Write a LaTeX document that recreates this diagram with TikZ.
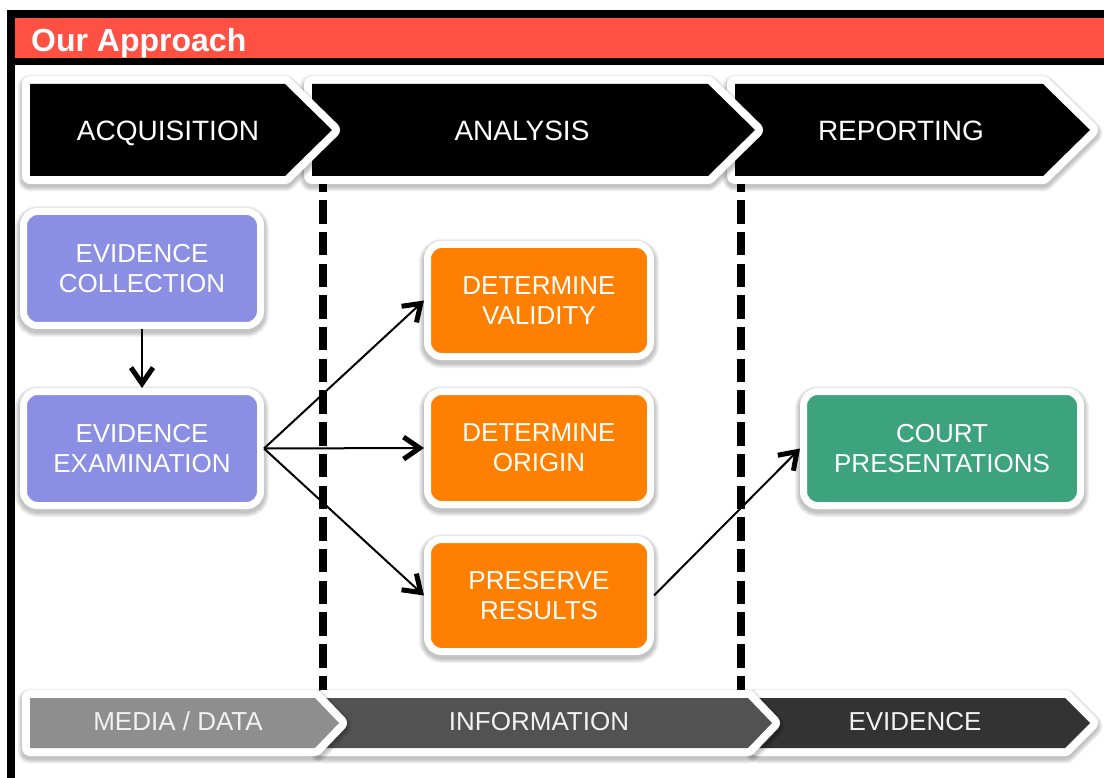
\documentclass[tikz,border=0pt]{standalone}
\usepackage{fontspec}
\setmainfont{Liberation Sans}
\usetikzlibrary{arrows.meta}
\definecolor{titlered}{HTML}{FF5044}
\definecolor{lav}{HTML}{8B8FE3}
\definecolor{orng}{HTML}{FF7F00}
\definecolor{grn}{HTML}{3DA37F}
\definecolor{gA}{HTML}{8E8E8E}
\definecolor{gB}{HTML}{525252}
\definecolor{gC}{HTML}{333333}
\definecolor{lighttext}{HTML}{F2F2F2}
\newcommand{\mychev}[6]{%
  \foreach \w in {17,19,21,23,25}{%
    \draw[black, draw opacity=0.05, line width=\w pt, line join=round,
      transform canvas={yshift=-3pt}]
      (#1,#4) -- (#2,#4) -- (#3,{(#4+#5)/2}) -- (#2,#5) -- (#1,#5) -- cycle;
  }
  \draw[white, line width=16pt, line join=round]
    (#1,#4) -- (#2,#4) -- (#3,{(#4+#5)/2}) -- (#2,#5) -- (#1,#5) -- cycle;
  \fill[#6] (#1,#4) -- (#2,#4) -- (#3,{(#4+#5)/2}) -- (#2,#5) -- (#1,#5) -- cycle;
}
\tikzset{
  halo/.style={preaction={draw=black, draw opacity=0.05, line width=#1,
    transform canvas={yshift=-3pt}}},
  box/.style={rectangle, rounded corners=14pt, draw=white, line width=7pt,
    inner sep=0pt, align=center, text=white,
    font=\fontsize{26}{30}\selectfont,
    halo=17pt, halo=15pt, halo=13pt, halo=11pt, halo=9pt},
  phase/.style={anchor=base, text=white, font=\fontsize{28}{32}\selectfont},
  layer/.style={anchor=base, text=lighttext, font=\fontsize{26}{30}\selectfont},
  sep/.style={line width=8pt, dash pattern=on 23.5pt off 8.2pt},
  arr/.style={line width=2pt, -{Straight Barb[length=16pt, width=22pt, line width=5pt]}},
}
\begin{document}
\begin{tikzpicture}[x=1pt, y=-1pt]
\useasboundingbox (0,0) rectangle (1104,778);
\clip (0,0) rectangle (1104,778);
% frame
\fill[black] (7,10) rectangle (1104,18);
\fill[black] (7,10) rectangle (15,778);
\fill[titlered] (15,18) rectangle (1104,58);
\fill[black] (15,58) rectangle (1104,65);
\node[anchor=base west, text=white, inner sep=0pt,
  font=\bfseries\fontsize{32}{36}\selectfont] (title) at (31,52) {Our Approach};
% separators
\coordinate (s1a) at (322.5,168.5); \coordinate (s1b) at (322.5,692);
\coordinate (s2a) at (740.5,168.5); \coordinate (s2b) at (740.5,692);
\draw[sep] (s1a) -- (s1b);
\draw[sep] (s2a) -- (s2b);
% top chevrons
\mychev{735}{1043}{1090}{84}{176}{black}
\mychev{312}{708}{755}{84}{176}{black}
\mychev{30}{285}{332}{84}{176}{black}
\node[phase] (acq) at (168,141) {ACQUISITION};
\node[phase] (ana) at (522,141) {ANALYSIS};
\node[phase] (rep) at (901,141) {REPORTING};
% bottom chevrons
\mychev{757}{1065}{1090}{698}{748}{gC}
\mychev{322}{748}{772}{698}{748}{gB}
\mychev{30}{315}{339}{698}{748}{gA}
\node[layer] (media) at (178,730) {MEDIA / DATA};
\node[layer] (info) at (539,730) {INFORMATION};
\node[layer] (evid) at (915,730) {EVIDENCE};
% boxes
\node[box, fill=lav, minimum width=237pt, minimum height=114pt] (coll) at (142,268.5) {EVIDENCE\\COLLECTION};
\node[box, fill=lav, minimum width=237pt, minimum height=114pt] (exam) at (142,448.5) {EVIDENCE\\EXAMINATION};
\node[box, fill=orng, minimum width=223pt, minimum height=112pt] (valid) at (539,300.5) {DETERMINE\\VALIDITY};
\node[box, fill=orng, minimum width=223pt, minimum height=113pt] (origin) at (539,448) {DETERMINE\\ORIGIN};
\node[box, fill=orng, minimum width=223pt, minimum height=112pt] (results) at (539,595.5) {PRESERVE\\RESULTS};
\node[box, fill=grn, minimum width=277pt, minimum height=114pt] (court) at (942,448.5) {COURT\\PRESENTATIONS};
% connectors
\draw[arr] (coll.south) -- (exam.north);
\draw[arr] (exam.east) -- (valid.west);
\draw[arr] (exam.east) -- (origin.west);
\draw[arr] (exam.east) -- (results.west);
\draw[arr] (results.east) -- (court.west);
\end{tikzpicture}
\end{document}
